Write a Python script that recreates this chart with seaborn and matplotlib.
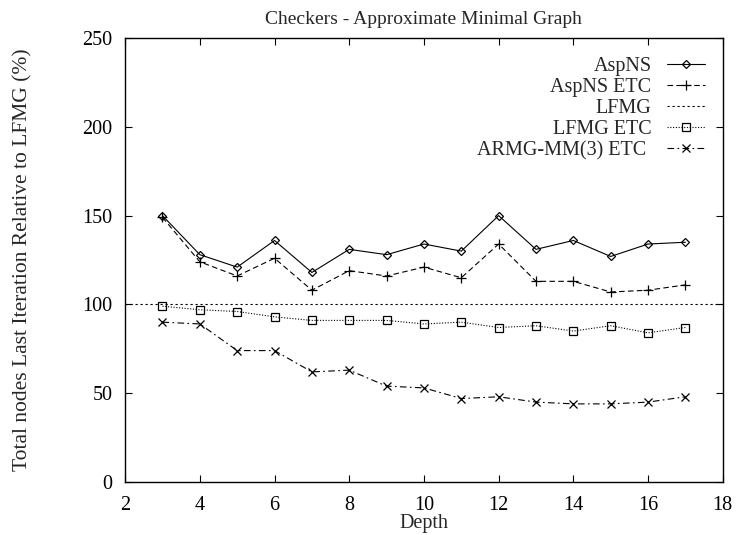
import pandas as pd
import matplotlib
matplotlib.use("Agg")
import matplotlib.pyplot as plt
import seaborn as sns

# ------------------------------------------------------------------
# Data
# ------------------------------------------------------------------
depth = [3, 4, 5, 6, 7, 8, 9, 10, 11, 12, 13, 14, 15, 16, 17]
aspns = [150, 128, 121, 136, 118, 131, 128, 134, 130, 150, 131, 136, 127, 134, 135]
aspns_etc = [149, 124, 116, 126, 108, 119, 116, 121, 115, 134, 113, 113, 107, 108, 111]
lfmg_level = 100
lfmg_etc = [99, 97, 96, 93, 91, 91, 91, 89, 90, 87, 88, 85, 88, 84, 87]
armg_etc = [90, 89, 74, 74, 62, 63, 54, 53, 47, 48, 45, 44, 44, 45, 48]

x_ticks = [2, 4, 6, 8, 10, 12, 14, 16, 18]
y_ticks = [0, 50, 100, 150, 200, 250]

df = pd.DataFrame({
    "depth": depth,
    "AspNS": aspns,
    "AspNS ETC": aspns_etc,
    "LFMG ETC": lfmg_etc,
    "ARMG-MM(3) ETC": armg_etc,
})

# ------------------------------------------------------------------
# Plot
# ------------------------------------------------------------------
sns.set_theme(style="ticks")
plt.rcParams["font.family"] = ["Liberation Serif", "DejaVu Serif"]
plt.rcParams["font.size"] = 14.5

fig = plt.figure(figsize=(7.36, 5.35), dpi=100)
ax = fig.add_axes([0.170, 0.099, 0.812, 0.830])

common = dict(color="black", linewidth=0.8, markeredgecolor="black",
              markerfacecolor="none", markeredgewidth=0.9, ax=ax)

sns.lineplot(data=df, x="depth", y="AspNS", marker="D", markersize=4,
             linestyle="-", label="AspNS", **common)
sns.lineplot(data=df, x="depth", y="AspNS ETC", marker="+", markersize=6.5,
             linestyle=(0, (5, 3)), label="AspNS ETC", **common)
ax.axhline(lfmg_level, color="black", linewidth=0.8, linestyle=(0, (2, 2.5)),
           label="LFMG")
sns.lineplot(data=df, x="depth", y="LFMG ETC", marker="s", markersize=5.5,
             linestyle=(0, (1, 1.5)), label="LFMG ETC", **common)
sns.lineplot(data=df, x="depth", y="ARMG-MM(3) ETC", marker="x", markersize=5.5,
             linestyle=(0, (6, 3, 1.5, 3)), label="ARMG-MM(3) ETC ", **common)

ax.set_xlim(2, 18)
ax.set_ylim(0, 250)
ax.set_xticks(x_ticks)
ax.set_yticks(y_ticks)
ax.tick_params(direction="in", top=True, right=True, length=5, width=0.8,
               labelsize=14.5, colors="black")
ax.tick_params(axis="x", pad=10)
ax.tick_params(axis="y", pad=9)
for s in ax.spines.values():
    s.set_visible(True)
    s.set_linewidth(1.0)
    s.set_color("black")

ax.set_title("Checkers - Approximate Minimal Graph", fontsize=14, pad=10)
ax.set_xlabel("Depth", fontsize=14.5, labelpad=-1)
ax.set_ylabel("Total nodes Last Iteration Relative to LFMG (%)", fontsize=15.5)
ax.yaxis.set_label_coords(-0.155, 0.5)

leg = ax.legend(loc="upper right", bbox_to_anchor=(0.970, 0.958),
                frameon=False, markerfirst=False, fontsize=14.5,
                handlelength=1.9, handletextpad=0.75, labelspacing=0.1,
                borderpad=0, borderaxespad=0)

fig.savefig("out.png", dpi=100)
